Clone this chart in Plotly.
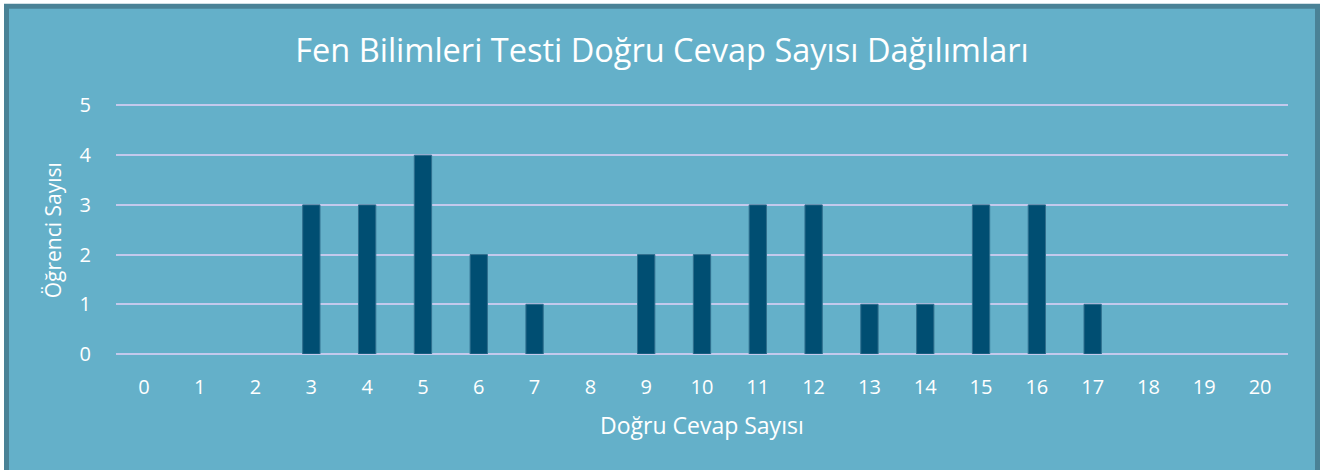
import plotly.graph_objects as go

categories = list(range(0, 21))
counts = [0, 0, 0, 3, 3, 4, 2, 1, 0, 2, 2, 3, 3, 1, 1, 3, 3, 1, 0, 0, 0]
y_ticks = [0, 1, 2, 3, 4, 5]

title_text = "Fen Bilimleri Testi Doğru Cevap Sayısı Dağılımları"
x_title = "Doğru Cevap Sayısı"
y_title = "Öğrenci Sayısı"

W, H = 1324, 470
Y_MAX = 5.05
L, R, B = 116, 36, 116
T = 354 - 249 * Y_MAX / 5
pw, ph = W - L - R, H - T - B

def px_x(p):
    return (p - L) / pw

def px_y(p):
    return (H - B - p) / ph

FONT = "Open Sans"
fig = go.Figure()
fig.add_trace(go.Bar(
    x=categories, y=counts, width=0.31,
    marker=dict(color="#004E72",
                line=dict(color="#2F6F8E", width=[1 if c > 0 else 0 for c in counts])),
    hoverinfo="x+y",
))

fig.add_shape(type="rect", xref="paper", yref="paper",
              x0=px_x(6.5), x1=px_x(1317.5), y0=px_y(480), y1=px_y(5.5),
              line=dict(color="#4A8296", width=5), fillcolor="#64B0C9", layer="below")

fig.add_annotation(text=x_title, xref="paper", yref="paper",
                   x=px_x(702), y=px_y(425), xanchor="center", yanchor="middle",
                   showarrow=False, font=dict(size=23, color="white", family=FONT))
fig.add_annotation(text=y_title, xref="paper", yref="paper", textangle=-90,
                   x=px_x(53), y=px_y(230), xanchor="center", yanchor="middle",
                   showarrow=False, font=dict(size=21, color="white", family=FONT))

fig.update_layout(
    width=W, height=H,
    margin=dict(l=L, r=R, t=T, b=B),
    paper_bgcolor="white", plot_bgcolor="rgba(0,0,0,0)",
    showlegend=False,
    font=dict(family=FONT, color="white"),
    title=dict(text=title_text, x=0.5, xref="container", xanchor="center",
               y=1 - 51 / H, yref="container", yanchor="middle",
               font=dict(size=32.5, color="white", family=FONT)),
)
fig.update_xaxes(
    range=[-0.5, 20.5], tickmode="array", tickvals=categories,
    ticktext=[str(c) for c in categories],
    showgrid=False, zeroline=False, showline=False,
    ticks="outside", ticklen=15, tickcolor="rgba(0,0,0,0)",
    tickfont=dict(size=20, color="white", family=FONT),
)
fig.update_yaxes(
    range=[0, Y_MAX], tickmode="array", tickvals=y_ticks,
    showgrid=True, gridcolor="#C3C9EC", gridwidth=2,
    zeroline=True, zerolinecolor="#C3C9EC", zerolinewidth=2,
    showline=False,
    ticks="outside", ticklen=20, tickcolor="rgba(0,0,0,0)",
    tickfont=dict(size=20, color="white", family=FONT),
)

fig.write_html("out.html", config={"displayModeBar": False},
               post_script="document.body.style.margin='0';document.body.style.overflow='hidden';")
